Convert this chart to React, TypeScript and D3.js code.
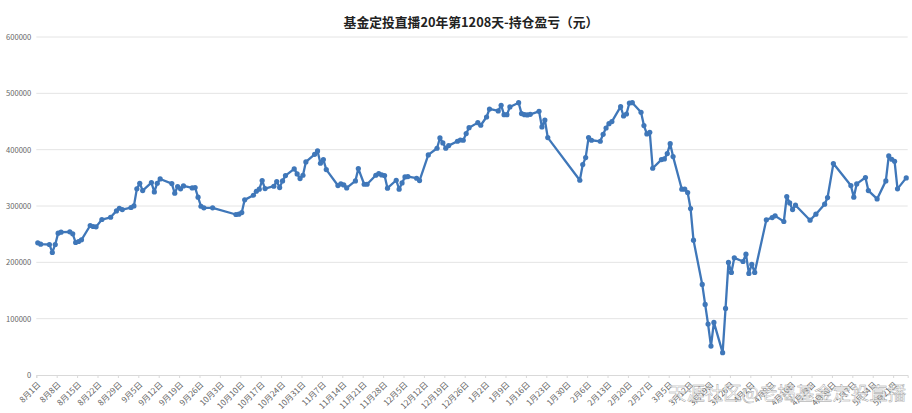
import React, { useEffect, useRef } from "react";
import * as d3 from "d3";

const titleText = "基金定投直播20年第1208天-持仓盈亏（元）";
const watermarkText = "天涯社区@老揭基金定投直播";
const yTicks = [0, 100000, 200000, 300000, 400000, 500000, 600000];

// trading days, 2019-08 to 2020-05 (month-day, the year is worked out below)
const tradeDays = [
  "08-01", "08-02", "08-05", "08-06", "08-07", "08-08", "08-09", "08-12", "08-13", "08-14", "08-15", "08-16",
  "08-19", "08-20", "08-21", "08-23", "08-26", "08-28", "08-29", "08-30",
  "09-02", "09-03", "09-04", "09-05", "09-06", "09-09", "09-10", "09-11", "09-12", "09-16", "09-17", "09-18", "09-19", "09-20",
  "09-23", "09-24", "09-25", "09-26", "09-27", "09-30",
  "10-08", "10-09", "10-10", "10-11", "10-14", "10-15", "10-16", "10-17", "10-18", "10-21", "10-22", "10-23", "10-24", "10-25",
  "10-28", "10-29", "10-30", "10-31", "11-01", "11-04", "11-05", "11-06", "11-07", "11-08",
  "11-12", "11-13", "11-14", "11-15", "11-18", "11-19", "11-21", "11-22", "11-25", "11-26", "11-27", "11-28", "11-29",
  "12-02", "12-03", "12-04", "12-05", "12-06", "12-09", "12-10", "12-13", "12-16", "12-17", "12-18", "12-19", "12-20",
  "12-23", "12-24", "12-25", "12-26", "12-27", "12-30", "12-31",
  "01-02", "01-03", "01-06", "01-07", "01-08", "01-09", "01-10", "01-13", "01-14", "01-15", "01-16", "01-17",
  "01-20", "01-21", "01-22", "01-23",
  "02-03", "02-04", "02-05", "02-06", "02-07", "02-10", "02-11", "02-12", "02-13", "02-14",
  "02-17", "02-18", "02-19", "02-20", "02-21", "02-24", "02-25", "02-26", "02-27", "02-28",
  "03-02", "03-03", "03-04", "03-05", "03-06", "03-09", "03-10", "03-11", "03-12", "03-13",
  "03-16", "03-17", "03-18", "03-19", "03-20", "03-23", "03-24", "03-25", "03-26", "03-27",
  "03-30", "03-31", "04-01", "04-02", "04-03", "04-07", "04-09", "04-10",
  "04-13", "04-14", "04-15", "04-16", "04-17", "04-22", "04-24", "04-27", "04-28", "04-30",
  "05-06", "05-07", "05-08", "05-11", "05-12", "05-15", "05-18", "05-19", "05-20", "05-21", "05-22", "05-25",
];

const holdingPnl = [
  234600, 232300, 231700, 217500, 231700, 251800, 253500, 254100, 250600, 235200, 237000, 240000,
  265400, 263600, 263000, 276000, 280000, 291300, 296000, 293700,
  297300, 300200, 330400, 340400, 327400, 341600, 325000, 340400, 348000, 339800, 322700, 334500, 330400, 335700,
  332100, 332700, 315600, 299600, 296700, 296700,
  284900, 285500, 288400, 310900, 319100, 326200, 329800, 345100, 331000, 335100, 343400, 332700, 344600, 354000,
  365800, 357000, 348700, 354600, 378200, 391800, 397700, 375900, 382400, 364600,
  336300, 339200, 337500, 332100, 344600, 366400, 338600, 338600, 354600, 357600, 355200, 354000, 331600,
  345700, 329800, 341000, 351600, 352200, 349300, 345100, 390700, 402500, 420800, 411900, 402500, 407200,
  414900, 417200, 416700, 428500, 439100, 448000, 443300,
  458000, 472200, 468700, 478700, 462200, 462200, 475800, 483400, 464000, 462200, 461600, 462700,
  468100, 440300, 452700, 421400,
  345700, 373500, 385900, 421400, 416700, 414900, 427300, 438500, 446200, 449800,
  476300, 459800, 463300, 482800, 483400, 466300, 442700, 427900, 430800, 367000,
  382400, 383600, 393000, 410700, 387700, 329800, 329800, 323900, 295500, 239400,
  160800, 125300, 90400, 51400, 93400, 39600, 118200, 199800, 182000, 208000,
  201500, 214500, 180300, 196200, 182000, 275400, 279500, 282500,
  272500, 316800, 305500, 293700, 301400, 274800, 285500, 303200, 315000, 375300,
  336300, 315600, 339200, 350500, 327400, 312600, 344600, 388900, 383000, 379400, 330400, 349900,
];

const WIDTH = 912;
const HEIGHT = 413;
const CJK = '"Noto Sans CJK SC", "Noto Sans", sans-serif';

const toDate = (md: string) => {
  const year = +md.slice(0, 2) >= 8 ? 2019 : 2020;
  return new Date(Date.UTC(year, +md.slice(0, 2) - 1, +md.slice(3)));
};

export default function App() {
  const svgRef = useRef<SVGSVGElement | null>(null);

  useEffect(() => {
    const svg = d3.select(svgRef.current);
    svg.selectAll("*").remove();

    const x = d3
      .scaleUtc()
      .domain([new Date(Date.UTC(2019, 7, 1)), new Date(Date.UTC(2020, 4, 26))])
      .range([36.3, 907.7]);
    const y = d3.scaleLinear().domain([0, 600000]).range([375, 37]);

    // points sit in the middle of their day slot
    const px = (md: string) => x(d3.utcHour.offset(toDate(md), 12));

    svg
      .append("text")
      .attr("x", 471)
      .attr("y", 27)
      .attr("text-anchor", "middle")
      .attr("font-family", CJK)
      .attr("font-weight", 700)
      .attr("font-size", 12.8)
      .attr("fill", "#222")
      .text(titleText);

    // grid
    svg
      .append("g")
      .selectAll("line")
      .data(yTicks.filter((d) => d > 0))
      .join("line")
      .attr("x1", 36.3)
      .attr("x2", 907.7)
      .attr("y1", (d) => y(d))
      .attr("y2", (d) => y(d))
      .attr("stroke", "#e4e4e4")
      .attr("stroke-width", 1);

    const yAxis = svg
      .append("g")
      .attr("transform", "translate(36.3,0)")
      .call(d3.axisLeft(y).tickValues(yTicks).tickSize(0).tickPadding(5).tickFormat(d3.format("d")));
    yAxis.select(".domain").remove();
    yAxis.selectAll("text").attr("font-family", CJK).attr("font-size", 7.6).attr("fill", "#666");

    const weekTicks = d3.utcDay.range(x.domain()[0], x.domain()[1], 7);
    const xAxis = svg
      .append("g")
      .attr("transform", "translate(0,375)")
      .call(
        d3
          .axisBottom(x)
          .tickValues(weekTicks)
          .tickSizeOuter(0)
          .tickSize(3)
          .tickFormat((d) => `${(d as Date).getUTCMonth() + 1}月${(d as Date).getUTCDate()}日`)
      );
    xAxis.select(".domain").attr("stroke", "#d9d9d9");
    xAxis.selectAll("line").attr("stroke", "#d9d9d9");
    xAxis
      .selectAll("text")
      .attr("font-family", CJK)
      .attr("font-size", 8.2)
      .attr("fill", "#666")
      .attr("text-anchor", "end")
      .attr("transform", "translate(-3,3) rotate(-45)")
      .attr("dy", "0.5em");

    const line = d3
      .line<number>()
      .x((_, i) => px(tradeDays[i]))
      .y((d) => y(d));

    svg
      .append("path")
      .attr("d", line(holdingPnl))
      .attr("fill", "none")
      .attr("stroke", "#3f77b9")
      .attr("stroke-width", 2.3)
      .attr("stroke-linejoin", "round");

    svg
      .append("g")
      .selectAll("circle")
      .data(holdingPnl)
      .join("circle")
      .attr("cx", (_, i) => px(tradeDays[i]))
      .attr("cy", (d) => y(d))
      .attr("r", 2.6)
      .attr("fill", "#3f77b9");

    svg
      .append("text")
      .attr("x", 668)
      .attr("y", 400)
      .attr("font-family", CJK)
      .attr("font-size", 18.4)
      .attr("fill", "#ffffff")
      .attr("fill-opacity", 0.8)
      .attr("stroke", "#999")
      .attr("stroke-width", 0.4)
      .text(watermarkText);
  }, []);

  return (
    <svg
      ref={svgRef}
      width={WIDTH}
      height={HEIGHT}
      style={{ position: "absolute", left: 0, top: 0, background: "#fff" }}
    />
  );
}
